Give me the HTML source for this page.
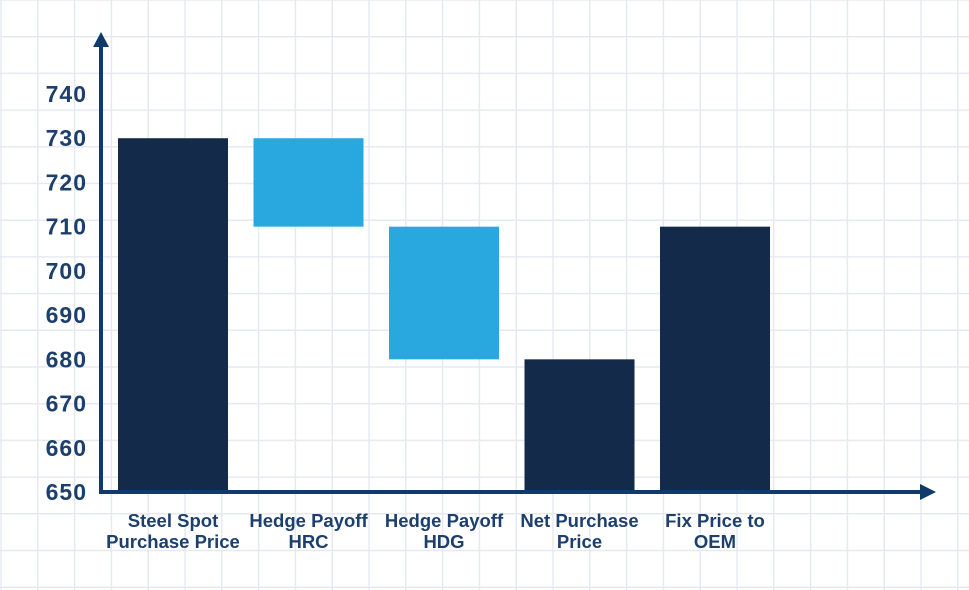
<!DOCTYPE html>
<html><head><meta charset="utf-8"><style>
html,body{margin:0;padding:0;background:#fff;}
svg{display:block;font-family:"Liberation Sans",sans-serif;}
</style></head><body>
<svg id="chart" width="969" height="590" viewBox="0 0 969 590">
<g id="grid"></g>
<g id="bars"></g>
<g id="yticks"></g>
<g id="xlabels"></g>
<g>
<line x1="101" y1="494" x2="101" y2="44" stroke="#0f3a6b" stroke-width="4"/>
<polygon points="101,32 93,47 109,47" fill="#0f3a6b"/>
</g>
<g>
<line x1="99" y1="492" x2="922" y2="492" stroke="#0f3a6b" stroke-width="4"/>
<polygon points="936,492 920,484 920,500" fill="#0f3a6b"/>
</g>
</svg>
<script>
const categories=[["Steel Spot","Purchase Price"],["Hedge Payoff","HRC"],["Hedge Payoff","HDG"],["Net Purchase","Price"],["Fix Price to","OEM"]];
const barStart=[650,710,680,650,650];
const barEnd=[730,730,710,680,710];
const barType=["total","delta","delta","total","total"];
const yTicks=[650,660,670,680,690,700,710,720,730,740];
const NS="http://www.w3.org/2000/svg";
function y(v){return 492-(v-650)*(398/90);}
function xc(i){return 173+i*135.5;}
const grid=document.getElementById('grid');
for(let gx=1;gx<969;gx+=36.8){const l=document.createElementNS(NS,'line');l.setAttribute('x1',gx);l.setAttribute('x2',gx);l.setAttribute('y1',0);l.setAttribute('y2',590);l.setAttribute('stroke','#e6eaf0');l.setAttribute('stroke-width','1.5');


grid.appendChild(l);}
for(let gy=0;gy<590;gy+=36.7){const l=document.createElementNS(NS,'line');l.setAttribute('y1',gy);l.setAttribute('y2',gy);l.setAttribute('x1',0);l.setAttribute('x2',969);l.setAttribute('stroke','#e6eaf0');l.setAttribute('stroke-width','1.5');


grid.appendChild(l);}
const bars=document.getElementById('bars');
categories.forEach((c,i)=>{const r=document.createElementNS(NS,'rect');const top=y(Math.max(barStart[i],barEnd[i]));const bot=y(Math.min(barStart[i],barEnd[i]));
r.setAttribute('x',xc(i)-55);r.setAttribute('width',110);r.setAttribute('y',top);r.setAttribute('height',bot-top);
r.setAttribute('fill',barType[i]==='total'?'#142a4b':'#29a8e0');


bars.appendChild(r);
const t=document.createElementNS(NS,'text');t.setAttribute('x',xc(i));t.setAttribute('text-anchor','middle');t.setAttribute('font-size','18.5');t.setAttribute('font-weight','bold');t.setAttribute('fill','#1c3f6e');
c.forEach((ln,k)=>{const s=document.createElementNS(NS,'tspan');s.setAttribute('x',xc(i));s.setAttribute('y',527+k*21);s.textContent=ln;t.appendChild(s);});


document.getElementById('xlabels').appendChild(t);});
yTicks.forEach(v=>{const t=document.createElementNS(NS,'text');t.setAttribute('x',87);t.setAttribute('y',y(v)+8);t.setAttribute('text-anchor','end');t.setAttribute('font-size','23');t.setAttribute('letter-spacing','1');t.setAttribute('font-weight','bold');t.setAttribute('fill','#1c3f6e');t.textContent=v;


document.getElementById('yticks').appendChild(t);});
</script>
</body></html>
